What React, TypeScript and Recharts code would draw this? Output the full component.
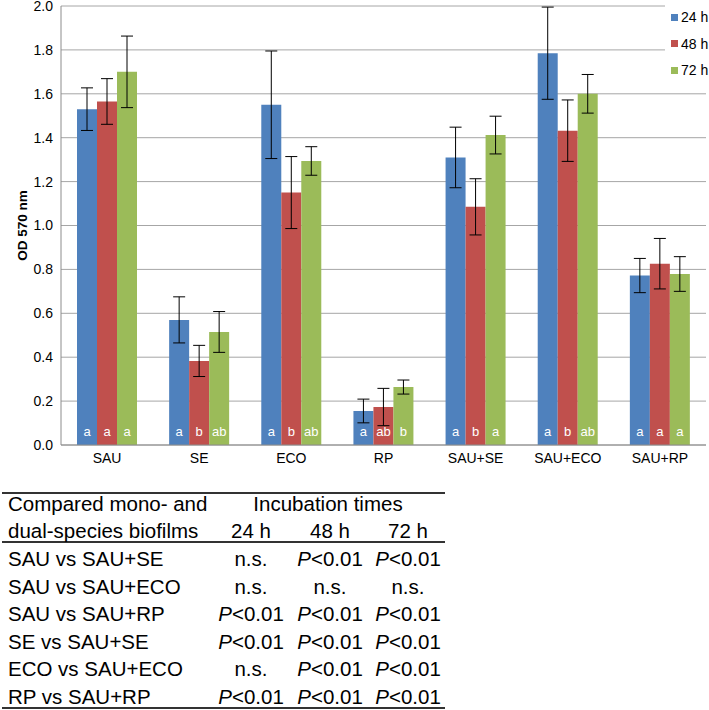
import { BarChart, Bar, XAxis, YAxis, CartesianGrid, ErrorBar, LabelList, Legend, Label } from "recharts";

const categories = ["SAU", "SE", "ECO", "RP", "SAU+SE", "SAU+ECO", "SAU+RP"];

// mean OD 570 nm per incubation time
const od24 = [1.53, 0.57, 1.55, 0.155, 1.31, 1.785, 0.772];
const od48 = [1.565, 0.383, 1.15, 0.173, 1.085, 1.432, 0.826];
const od72 = [1.7, 0.515, 1.294, 0.264, 1.412, 1.6, 0.779];

// error bar half-lengths
const err24 = [0.097, 0.105, 0.245, 0.054, 0.138, 0.21, 0.078];
const err48 = [0.104, 0.071, 0.164, 0.085, 0.128, 0.14, 0.115];
const err72 = [0.163, 0.093, 0.065, 0.032, 0.086, 0.088, 0.079];

// significance letters drawn inside the bars
const letters24 = ["a", "a", "a", "a", "a", "a", "a"];
const letters48 = ["a", "b", "b", "ab", "b", "b", "a"];
const letters72 = ["a", "ab", "ab", "b", "a", "ab", "a"];

const yTicks = [0, 0.2, 0.4, 0.6, 0.8, 1.0, 1.2, 1.4, 1.6, 1.8, 2.0];

const seriesNames = ["24 h", "48 h", "72 h"];
const seriesColors = ["#4F81BD", "#C0504D", "#9BBB59"];

// table under the chart
const tableTimes = ["24 h", "48 h", "72 h"];
const comparisons = [
  "SAU vs SAU+SE",
  "SAU vs SAU+ECO",
  "SAU vs SAU+RP",
  "SE vs SAU+SE",
  "ECO vs SAU+ECO",
  "RP vs SAU+RP",
];
const results = [
  ["n.s.", "P<0.01", "P<0.01"],
  ["n.s.", "n.s.", "n.s."],
  ["P<0.01", "P<0.01", "P<0.01"],
  ["P<0.01", "P<0.01", "P<0.01"],
  ["n.s.", "P<0.01", "P<0.01"],
  ["P<0.01", "P<0.01", "P<0.01"],
];

const data = categories.map((name, i) => ({
  name,
  h24: od24[i],
  h48: od48[i],
  h72: od72[i],
  e24: err24[i],
  e48: err48[i],
  e72: err72[i],
  l24: letters24[i],
  l48: letters48[i],
  l72: letters72[i],
}));

const FONT = "'Liberation Sans', Arial, sans-serif";

const renderLetter = (props: any) => {
  const vb = props.viewBox || props;
  const x = vb.x ?? props.x;
  const y = vb.y ?? props.y;
  const w = vb.width ?? props.width;
  const h = vb.height ?? props.height;
  if (x == null || y == null) return null;
  return (
    <text
      x={x + w / 2}
      y={y + h - 9}
      textAnchor="middle"
      fill="#ffffff"
      fontSize={13}
      fontFamily={FONT}
    >
      {props.value}
    </text>
  );
};

const renderYLabel = ({ viewBox }: any) => {
  if (!viewBox) return null;
  const cy = viewBox.y + viewBox.height / 2;
  return (
    <text
      x={22}
      y={cy}
      transform={`rotate(-90, 22, ${cy})`}
      textAnchor="middle"
      dominantBaseline="central"
      fontSize={13.5}
      fontWeight="bold"
      fontFamily={FONT}
      fill="#000"
    >
      OD 570 nm
    </text>
  );
};

const renderLegend = () => (
  <div style={{ background: "#fff", width: 44, height: 78, paddingTop: 4 }}>
    {seriesNames.map((n, i) => (
      <div
        key={n}
        style={{
          display: "flex",
          alignItems: "center",
          height: 26.5,
          fontFamily: FONT,
          fontSize: 14,
          color: "#000",
        }}
      >
        <span
          style={{
            display: "inline-block",
            width: 7,
            height: 7,
            background: seriesColors[i],
            marginLeft: 6,
            marginRight: 3,
          }}
        />
        {n}
      </div>
    ))}
  </div>
);

const keys = ["h24", "h48", "h72"];
const errKeys = ["e24", "e48", "e72"];
const letterKeys = ["l24", "l48", "l72"];

const cellText: React.CSSProperties = {
  position: "absolute",
  width: 90,
  textAlign: "center",
  whiteSpace: "nowrap",
};
const colCenters = [251, 330, 408];

function ResultText({ v }: { v: string }) {
  if (v.startsWith("P")) {
    return (
      <span>
        <i>P</i>
        {v.slice(1)}
      </span>
    );
  }
  return <span>{v}</span>;
}

export default function App() {
  const rowTop = 545;
  const rowH = 27.5;
  return (
    <div style={{ position: "absolute", left: 0, top: 0, width: 709, height: 710, background: "#fff" }}>
      <BarChart
        width={709}
        height={475}
        data={data}
        margin={{ top: 6, right: 3, bottom: 5, left: 0 }}
        barGap={0}
        barSize={20}
      >
        <CartesianGrid vertical={false} stroke="#a6a6a6" strokeWidth={1} />
        <XAxis
          dataKey="name"
          height={25}
          interval={0}
          tickLine={false}
          axisLine={{ stroke: "#8c8c8c" }}
          tick={{ fontSize: 14, fill: "#000", fontFamily: FONT }}
        />
        <YAxis
          width={61}
          domain={[0, 2]}
          ticks={yTicks}
          interval={0}
          tickLine={false}
          axisLine={{ stroke: "#8c8c8c" }}
          tickFormatter={(v: number) => v.toFixed(1)}
          tick={{ fontSize: 14, fill: "#000", fontFamily: FONT }}
        >
          <Label content={renderYLabel} />
        </YAxis>
        <Legend
          layout="vertical"
          align="center"
          verticalAlign="middle"
          wrapperStyle={{ left: 665, top: 0, width: 44, height: 80 }}
          content={renderLegend}
        />
        {keys.map((k, i) => (
          <Bar key={k} dataKey={k} name={seriesNames[i]} fill={seriesColors[i]} isAnimationActive={false}>
            <ErrorBar dataKey={errKeys[i]} width={6} stroke="#000" strokeWidth={1} direction="y" />
            <LabelList dataKey={letterKeys[i]} content={renderLetter} />
          </Bar>
        ))}
      </BarChart>

      {/* comparison table */}
      <div
        style={{
          position: "absolute",
          left: 0,
          top: 0,
          width: 709,
          height: 710,
          fontFamily: FONT,
          fontSize: 20.5,
          color: "#000",
          pointerEvents: "none",
        }}
      >
        <div style={{ position: "absolute", left: 2, top: 492, width: 443, height: 2, background: "#333" }} />
        <div style={{ position: "absolute", left: 2, top: 541, width: 443, height: 2, background: "#333" }} />
        <div style={{ position: "absolute", left: 2, top: 707, width: 443, height: 2, background: "#333" }} />

        <div style={{ position: "absolute", left: 8, top: 490, lineHeight: "27px", whiteSpace: "nowrap" }}>
          Compared mono- and
        </div>
        <div style={{ position: "absolute", left: 8, top: 517, lineHeight: "27px", whiteSpace: "nowrap" }}>
          dual-species biofilms
        </div>
        <div style={{ ...cellText, width: 200, left: 328 - 100, top: 490, lineHeight: "27px" }}>
          Incubation times
        </div>
        {tableTimes.map((t, j) => (
          <div key={t} style={{ ...cellText, left: colCenters[j] - 45, top: 517, lineHeight: "27px" }}>
            {t}
          </div>
        ))}

        {comparisons.map((c, r) => (
          <div key={c}>
            <div
              style={{
                position: "absolute",
                left: 8,
                top: rowTop + r * rowH,
                lineHeight: "27px",
                whiteSpace: "nowrap",
              }}
            >
              {c}
            </div>
            {results[r].map((v, j) => (
              <div
                key={j}
                style={{ ...cellText, left: colCenters[j] - 45, top: rowTop + r * rowH, lineHeight: "27px" }}
              >
                <ResultText v={v} />
              </div>
            ))}
          </div>
        ))}
      </div>
    </div>
  );
}
